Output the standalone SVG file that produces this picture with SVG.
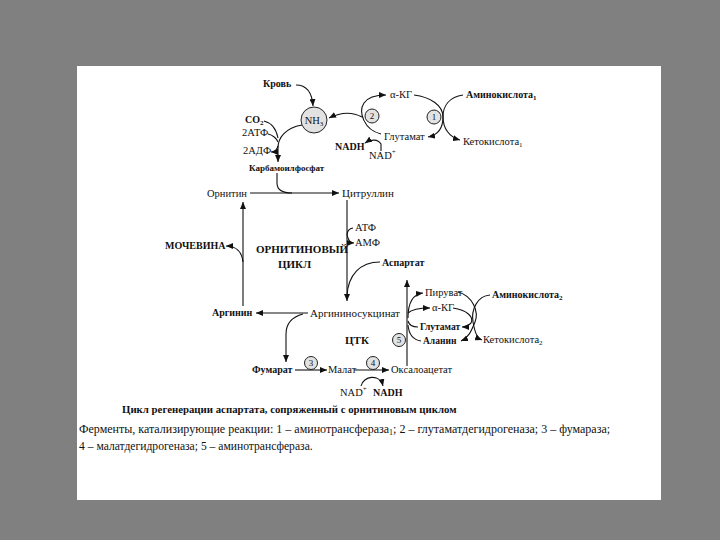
<svg xmlns="http://www.w3.org/2000/svg" width="720" height="540" viewBox="0 0 720 540">
<defs>
<marker id="ah" markerUnits="userSpaceOnUse" markerWidth="8" markerHeight="6" refX="7" refY="3" orient="auto">
<path d="M0,0 L7,3 L0,6 Z" fill="#111"/>
</marker>
<style>
text{font-family:"Liberation Serif","Times New Roman","DejaVu Serif",serif;fill:#111;font-size:10.5px}
.b{font-weight:bold;font-size:10px}
.c{fill:#e2e2e2;stroke:#222;stroke-width:1}
.n{font-size:9px;text-anchor:middle}
.ln{fill:none;stroke:#111;stroke-width:1.1}
.ar{marker-end:url(#ah)}
</style>
</defs>
<rect width="720" height="540" fill="#808080"/>
<rect x="77" y="66" width="584" height="434" fill="#fff"/>

<g id="connectors">
<path class="ln ar" d="M296,85 C306,85 312,92 313,106"/>
<path class="ln ar" d="M302,125 C285,128 278,138 278,148 L278,162"/>
<path class="ln" d="M264,121 C272,123 276,128 278,138"/>
<path class="ln" d="M268,134 C273,135 277,139 278,142"/>
<path class="ln ar" d="M278,146 C277,150 275,152 271,152"/>
<path class="ln ar" d="M381,134 C364,130 358,112 364,103 C368,97 376,95 386,95"/>
<path class="ln ar" d="M362,117 C351,111 339,113 329,118"/>
<path class="ln ar" d="M381,151 L381,144 C378,139 371,139 365,143"/>
<path class="ln ar" d="M414,95 C430,97 443,105 443,117 C443,128 438,135 428,137"/>
<path class="ln ar" d="M463,95 C450,97 443,105 443,117 C443,128 449,137 460,140"/>
<path class="ln ar" d="M250,193 L339,193"/>
<path class="ln" d="M277,173 L277,183 C277,190 282,193 292,193"/>
<path class="ln ar" d="M347,200 L347,301"/>
<path class="ln ar" d="M353,228 C347,229 346,235 348,238 C349,241 351,243 354,243"/>
<path class="ln" d="M380,262 C360,262 348,275 347,296"/>
<path class="ln ar" d="M308,313 L256,313"/>
<path class="ln ar" d="M243,306 L243,202"/>
<path class="ln ar" d="M243,262 C242,252 236,246 226,246"/>
<path class="ln ar" d="M303,314 C292,317 286,324 286,334 L286,362"/>
<path class="ln ar" d="M295,370 L327,370"/>
<path class="ln ar" d="M354,370 L389,370"/>
<path class="ln ar" d="M361,386 C363,376 380,373 383,386"/>
<path class="ln ar" d="M407,366 L407,280"/>
<path class="ln ar" d="M408,318 C408,300 414,294 423,293"/>
<path class="ln ar" d="M408,313 C412,309 420,308 430,308"/>
<path class="ln" d="M418,327 C412,327 409,325 408,321"/>
<path class="ln" d="M408,325 C409,336 414,340 421,341"/>
<path class="ln ar" d="M458,292 C473,296 479,312 475,322 C471,332 468,338 461,341"/>
<path class="ln ar" d="M453,308 C467,310 474,317 471,323 C468,326 466,327 462,327"/>
<path class="ln ar" d="M490,295 C477,296 471,310 473,322 C475,333 477,338 482,340"/>
</g>

<g id="krov"><text class="b" x="263" y="87">Кровь</text></g>
<g id="nh3"><circle class="c" cx="314" cy="120" r="13"/><text x="314" y="124" text-anchor="middle" font-size="11">NH<tspan font-size="7" dy="2">3</tspan></text></g>
<g id="akg1"><text x="390" y="98">α-КГ</text></g>
<g id="e2"><circle class="c" cx="372" cy="116" r="7"/><text class="n" x="372" y="119">2</text></g>
<g id="e1"><circle class="c" cx="434" cy="117" r="7"/><text class="n" x="434" y="120">1</text></g>
<g id="amino1"><text class="b" x="466" y="98">Аминокислота<tspan font-size="7" dy="2">1</tspan></text></g>
<g id="keto1"><text x="463" y="145">Кетокислота<tspan font-size="7" dy="2">1</tspan></text></g>
<g id="glu1"><text x="384" y="140">Глутамат</text></g>
<g id="nadh1"><text class="b" x="335" y="150">NADH</text></g>
<g id="nad1"><text x="369" y="159">NAD<tspan font-size="7" dy="-5">+</tspan></text></g>
<g id="co2"><text class="b" x="245" y="123">CO<tspan font-size="7" dy="2">2</tspan></text></g>
<g id="atp2"><text x="242" y="136">2АТФ</text></g>
<g id="adp2"><text x="243" y="154">2АДФ</text></g>
<g id="carb"><text class="b" x="249" y="171" style="font-size:9px">Карбамоилфосфат</text></g>

<g id="orn"><text x="207" y="197">Орнитин</text></g>
<g id="cit"><text x="342" y="197" style="font-size:11px">Цитруллин</text></g>
<g id="atp"><text x="355" y="231">АТФ</text></g>
<g id="amp"><text x="355" y="246">АМФ</text></g>
<g id="urea"><text class="b" x="165" y="249">МОЧЕВИНА</text></g>
<g id="cycle"><text class="b" x="256" y="253" style="font-size:11px">ОРНИТИНОВЫЙ</text><text class="b" x="278" y="268" style="font-size:11px">ЦИКЛ</text></g>
<g id="asp"><text class="b" x="382" y="266">Аспартат</text></g>
<g id="argsuc"><text x="310" y="317" style="font-size:11px">Аргининосукцинат</text></g>
<g id="arg"><text class="b" x="212" y="316">Аргинин</text></g>
<g id="tca"><text class="b" x="345" y="344" style="font-size:11px">ЦТК</text></g>
<g id="pyr"><text x="425" y="296">Пируват</text></g>
<g id="akg2"><text x="432" y="311">α-КГ</text></g>
<g id="glu2"><text class="b" x="420" y="330" style="font-size:9.5px">Глутамат</text></g>
<g id="ala"><text class="b" x="423" y="344" style="font-size:9.5px">Аланин</text></g>
<g id="e5"><circle class="c" cx="399" cy="340" r="6.5"/><text class="n" x="399" y="343">5</text></g>
<g id="amino2"><text class="b" x="492" y="298">Аминокислота<tspan font-size="7" dy="2">2</tspan></text></g>
<g id="keto2"><text x="483" y="343">Кетокислота<tspan font-size="7" dy="2">2</tspan></text></g>
<g id="fum"><text class="b" x="252" y="373">Фумарат</text></g>
<g id="e3"><circle class="c" cx="311" cy="363" r="6.5"/><text class="n" x="311" y="366">3</text></g>
<g id="mal"><text x="328" y="373">Малат</text></g>
<g id="e4"><circle class="c" cx="373" cy="363" r="6.5"/><text class="n" x="373" y="366">4</text></g>
<g id="oaa"><text x="391" y="373">Оксалоацетат</text></g>
<g id="nad2"><text x="340" y="396">NAD<tspan font-size="7" dy="-5">+</tspan></text></g>
<g id="nadh2"><text class="b" x="373" y="396">NADH</text></g>

<g id="caption">
<text class="b" x="122" y="413" style="font-size:10.8px">Цикл регенерации аспартата, сопряженный с орнитиновым циклом</text>
<text x="79" y="433" style="font-size:12px">Ферменты, катализирующие реакции: 1 – аминотрансфераза<tspan font-size="8" dy="2">1</tspan><tspan dy="-2">; 2 – глутаматдегидрогеназа; 3 – фумараза;</tspan></text>
<text x="79" y="450" style="font-size:11.6px">4 – малатдегидрогеназа; 5 – аминотрансфераза.</text>
</g>
</svg>
